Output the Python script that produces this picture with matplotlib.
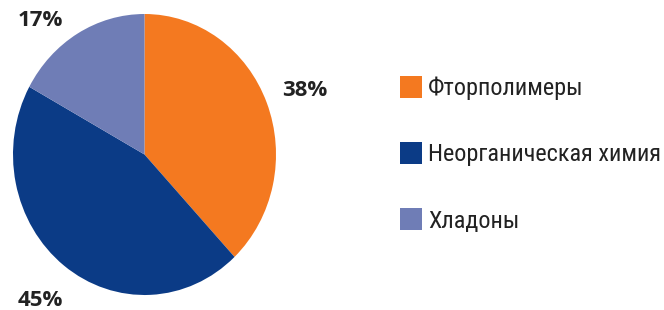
import matplotlib
matplotlib.use("Agg")
import matplotlib.pyplot as plt
from matplotlib import font_manager

categories = ["Фторполимеры", "Неорганическая химия", "Хладоны"]
shares = [38, 45, 17]
pct_labels = ["38%", "45%", "17%"]
colors = ["#F47920", "#0B3B86", "#6F7DB6"]


def pick_font(names):
    for name in names:
        try:
            font_manager.findfont(name, fallback_to_default=False)
            return name
        except Exception:
            continue
    return "DejaVu Sans"


legend_font = pick_font(["Liberation Sans Narrow", "Roboto Condensed",
                         "DejaVu Sans Condensed", "Open Sans", "DejaVu Sans"])
label_font = pick_font(["Open Sans", "Lato", "DejaVu Sans"])

fig = plt.figure(figsize=(6.64, 3.10), dpi=100)

# pie is slightly stretched vertically in the reference
ax = fig.add_axes([13 / 664, 15 / 310, 263 / 664, 281 / 310])
wedges, _ = ax.pie(shares, colors=colors, startangle=90, counterclock=False,
                   wedgeprops=dict(linewidth=0))
ax.set_aspect("auto")
ax.set_xlim(-1, 1)
ax.set_ylim(-1, 1)

# percentage labels placed in figure pixel coords
label_pos = [(305, 90), (40, 300), (40, 20)]
for txt, (x, y) in zip(pct_labels, label_pos):
    fig.text(x / 664, 1 - y / 310, txt, ha="center", va="center",
             fontsize=16, fontweight="bold", color="#222222",
             family=label_font)

leg = fig.legend(wedges, categories, loc="upper left",
                 bbox_to_anchor=(400 / 664, 1 - 76 / 310),
                 frameon=False,
                 handlelength=0.9, handleheight=1.02, handletextpad=0.25,
                 labelspacing=1.72, borderpad=0, borderaxespad=0,
                 prop=dict(family=legend_font, size=17.5))
for t in leg.get_texts():
    t.set_color("#222222")

fig.savefig("out.png", dpi=100)
